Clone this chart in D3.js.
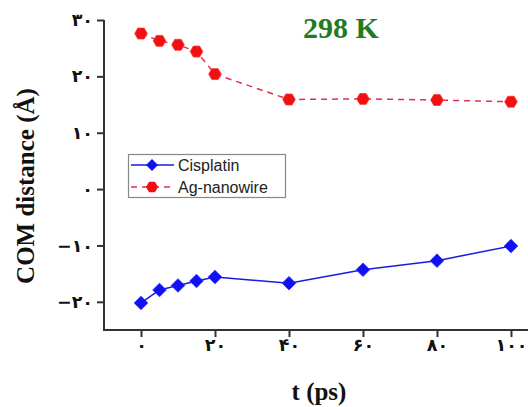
<!DOCTYPE html>
<html><head><meta charset="utf-8">
<script src="https://cdn.jsdelivr.net/npm/d3@7"></script>
<style>body{margin:0;background:#fff}svg{display:block}</style>
</head><body>
<svg id="c" width="528" height="407"></svg>
<script>
const times = [0, 5, 10, 15, 20, 40, 60, 80, 100];
const cisplatin = [-20.2, -17.9, -17.1, -16.3, -15.6, -16.7, -14.3, -12.7, -10.1];
const agNanowire = [27.6, 26.3, 25.6, 24.4, 20.4, 15.9, 16.0, 15.8, 15.5];
const xTicks = [0, 20, 40, 60, 80, 100];
const xTickLabels = ["۰", "۲۰", "۴۰", "۶۰", "۸۰", "۱۰۰"];
const yTicks = [30, 20, 10, 0, -10, -20];
const yTickLabels = ["۳۰", "۲۰", "۱۰", "۰", "−۱۰", "−۲۰"];
const seriesNames = ["Cisplatin", "Ag-nanowire"];

const svg = d3.select("#c");
const x = d3.scaleLinear().domain([-10, 104.6]).range([104, 528]);
const y = d3.scaleLinear().domain([-25, 30]).range([330, 20]);
const axisColor = "#333";

// x axis
const xAxis = svg.append("g").attr("transform", "translate(0,330)");
xAxis.call(d3.axisBottom(x).tickValues([10, 30, 50, 70, 90]).tickSize(3).tickFormat(""));
xAxis.call(d3.axisBottom(x).tickValues(xTicks).tickSize(7).tickFormat((d, i) => xTickLabels[i]));
xAxis.selectAll(".domain").remove();
xAxis.append("line").attr("x1", 103).attr("x2", 528).attr("y1", 0).attr("y2", 0)
  .attr("stroke", axisColor).attr("stroke-width", 2.2);
xAxis.selectAll("line").attr("stroke", axisColor).attr("stroke-width", 2);
xAxis.selectAll("text").attr("dy", null).attr("y", 21)
  .attr("font-family", "DejaVu Sans").attr("font-weight", "bold").attr("font-size", 17.5).attr("fill", "#111");

// y axis
const yAxis = svg.append("g").attr("transform", "translate(104,0)");
yAxis.call(d3.axisLeft(y).tickValues([25, 15, 5, -5, -15]).tickSize(3).tickFormat(""));
yAxis.call(d3.axisLeft(y).tickValues(yTicks).tickSize(7).tickFormat((d, i) => yTickLabels[i]));
yAxis.selectAll(".domain").remove();
yAxis.append("line").attr("x1", 0).attr("x2", 0).attr("y1", 20).attr("y2", 331)
  .attr("stroke", axisColor).attr("stroke-width", 2.2);
yAxis.selectAll("line").attr("stroke", axisColor).attr("stroke-width", 2);
yAxis.selectAll("text").attr("x", -11).attr("direction", "ltr")
  .attr("font-family", "DejaVu Sans").attr("font-weight", "bold").attr("font-size", 17.5).attr("fill", "#111");

// lines
const line = (vals) => d3.line().x((d, i) => x(times[i])).y(d => y(d))(vals);
svg.append("path").attr("d", line(agNanowire)).attr("fill", "none")
  .attr("stroke", "#e0304a").attr("stroke-width", 1.5).attr("stroke-dasharray", "6,5");
svg.append("path").attr("d", line(cisplatin)).attr("fill", "none")
  .attr("stroke", "#1a1ae6").attr("stroke-width", 1.5);

const hex = (r) => d3.range(6).map(k => { const a = Math.PI / 3 * k; return [r * Math.cos(a), r * Math.sin(a)]; });
const hexPath = (r) => "M" + hex(r).map(p => p.join(",")).join("L") + "Z";
const diamondPath = (r) => `M0,${-r}L${r},0L0,${r}L${-r},0Z`;

svg.append("g").selectAll("path").data(agNanowire).join("path")
  .attr("transform", (d, i) => `translate(${x(times[i])},${y(d)})`)
  .attr("d", hexPath(6.3)).attr("fill", "#f01010").attr("stroke", "#ff3030").attr("stroke-width", 0.8);
svg.append("g").selectAll("path").data(cisplatin).join("path")
  .attr("transform", (d, i) => `translate(${x(times[i])},${y(d)})`)
  .attr("d", diamondPath(6.8)).attr("fill", "#1010f0").attr("stroke", "#2a2aff").attr("stroke-width", 0.8);

// legend
const lg = svg.append("g");
lg.append("rect").attr("x", 128.5).attr("y", 154.5).attr("width", 157).attr("height", 43)
  .attr("fill", "#fff").attr("stroke", "#888").attr("stroke-width", 1.2);
lg.append("line").attr("x1", 131).attr("x2", 174).attr("y1", 165).attr("y2", 165)
  .attr("stroke", "#1a1ae6").attr("stroke-width", 1.5);
lg.append("path").attr("transform", "translate(152,165)").attr("d", diamondPath(6)).attr("fill", "#1010f0");
lg.append("line").attr("x1", 131).attr("x2", 174).attr("y1", 187).attr("y2", 187)
  .attr("stroke", "#e0304a").attr("stroke-width", 1.5).attr("stroke-dasharray", "6,5");
lg.append("path").attr("transform", "translate(152,187)").attr("d", hexPath(6)).attr("fill", "#f01010");
lg.selectAll("text.l").data(seriesNames).join("text")
  .attr("x", 178).attr("y", (d, i) => 171 + i * 22).text(d => d)
  .attr("font-family", "Liberation Sans, Arial").attr("font-size", 16).attr("fill", "#222");

// title
svg.append("text").attr("x", 341).attr("y", 38).attr("text-anchor", "middle").text("298 K")
  .attr("font-family", "Liberation Serif, Times New Roman").attr("font-weight", "bold")
  .attr("font-size", 30).attr("fill", "#237a23");

// axis titles
svg.append("text").attr("transform", "translate(34,186) rotate(-90)").attr("text-anchor", "middle")
  .text("COM distance (Å)").attr("font-family", "Liberation Serif, Times New Roman")
  .attr("font-weight", "bold").attr("font-size", 25).attr("fill", "#111");
svg.append("text").attr("x", 319).attr("y", 400).attr("text-anchor", "middle").text("t (ps)")
  .attr("font-family", "Liberation Serif, Times New Roman").attr("font-weight", "bold")
  .attr("font-size", 25).attr("fill", "#111");
</script>
</body></html>
